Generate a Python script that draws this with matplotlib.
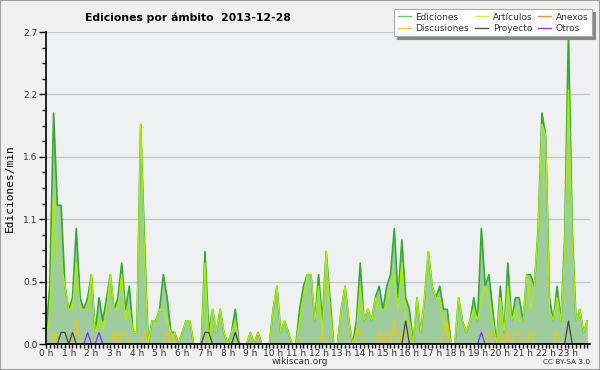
import matplotlib
matplotlib.use("Agg")
import matplotlib.pyplot as plt
from matplotlib.patches import Rectangle
from matplotlib.lines import Line2D
from matplotlib.ticker import FixedLocator, MultipleLocator

# 10-minute bins, 0:00 .. 23:50 (edits per minute)
ediciones = [
    0.1, 0.5, 2.0, 1.2, 1.2, 0.5, 0.3, 0.4, 1.0, 0.4, 0.3, 0.4,
    0.6, 0.1, 0.4, 0.2, 0.4, 0.6, 0.3, 0.4, 0.7, 0.3, 0.5, 0.1,
    0.1, 1.9, 0.9, 0.0, 0.2, 0.2, 0.3, 0.6, 0.4, 0.1, 0.1, 0.0,
    0.1, 0.2, 0.2, 0.0, 0.0, 0.0, 0.8, 0.1, 0.3, 0.1, 0.3, 0.1,
    0.0, 0.1, 0.3, 0.0, 0.0, 0.0, 0.1, 0.0, 0.1, 0.0, 0.0, 0.0,
    0.3, 0.5, 0.1, 0.2, 0.1, 0.0, 0.0, 0.3, 0.5, 0.6, 0.6, 0.2,
    0.6, 0.2, 0.8, 0.4, 0.0, 0.0, 0.3, 0.5, 0.2, 0.0, 0.2, 0.7,
    0.2, 0.3, 0.2, 0.4, 0.5, 0.3, 0.5, 0.6, 1.0, 0.4, 0.9, 0.4,
    0.3, 0.0, 0.4, 0.1, 0.4, 0.8, 0.5, 0.4, 0.5, 0.3, 0.3, 0.0,
    0.0, 0.4, 0.2, 0.1, 0.2, 0.4, 0.2, 1.0, 0.5, 0.6, 0.3, 0.0,
    0.5, 0.1, 0.7, 0.2, 0.4, 0.4, 0.2, 0.6, 0.6, 0.5, 1.0, 2.0,
    1.8, 0.4, 0.2, 0.5, 0.2, 0.9, 2.7, 1.0, 0.2, 0.3, 0.1, 0.2,
]
articulos = [
    0.1, 0.2, 1.3, 0.7, 0.7, 0.5, 0.3, 0.3, 0.7, 0.3, 0.3, 0.3,
    0.6, 0.1, 0.2, 0.1, 0.3, 0.6, 0.3, 0.3, 0.6, 0.2, 0.3, 0.1,
    0.1, 1.9, 0.8, 0.0, 0.2, 0.2, 0.3, 0.3, 0.2, 0.1, 0.0, 0.0,
    0.1, 0.2, 0.2, 0.0, 0.0, 0.0, 0.7, 0.0, 0.3, 0.1, 0.3, 0.1,
    0.0, 0.1, 0.2, 0.0, 0.0, 0.0, 0.1, 0.0, 0.0, 0.0, 0.0, 0.0,
    0.3, 0.5, 0.1, 0.2, 0.1, 0.0, 0.0, 0.2, 0.4, 0.6, 0.6, 0.2,
    0.5, 0.1, 0.8, 0.3, 0.0, 0.0, 0.3, 0.5, 0.2, 0.0, 0.1, 0.5,
    0.2, 0.3, 0.2, 0.4, 0.3, 0.3, 0.3, 0.5, 0.6, 0.3, 0.7, 0.2,
    0.2, 0.0, 0.4, 0.1, 0.4, 0.8, 0.5, 0.4, 0.4, 0.2, 0.1, 0.0,
    0.0, 0.4, 0.2, 0.1, 0.2, 0.3, 0.2, 0.4, 0.5, 0.4, 0.2, 0.0,
    0.4, 0.1, 0.5, 0.2, 0.3, 0.2, 0.2, 0.6, 0.3, 0.5, 1.0, 1.9,
    1.8, 0.3, 0.2, 0.4, 0.2, 0.8, 2.2, 0.9, 0.2, 0.3, 0.1, 0.2,
]
anexos = [0.0] * 144
discusiones = [
    0.0, 0.0, 0.1, 0.0, 0.0, 0.0, 0.0, 0.0, 0.2, 0.0, 0.0, 0.0,
    0.0, 0.0, 0.0, 0.0, 0.0, 0.0, 0.1, 0.0, 0.1, 0.1, 0.0, 0.0,
    0.0, 0.0, 0.1, 0.0, 0.0, 0.0, 0.0, 0.0, 0.1, 0.0, 0.1, 0.0,
    0.0, 0.0, 0.0, 0.0, 0.0, 0.0, 0.0, 0.0, 0.0, 0.0, 0.0, 0.0,
    0.0, 0.0, 0.0, 0.0, 0.0, 0.0, 0.0, 0.0, 0.1, 0.0, 0.0, 0.0,
    0.0, 0.0, 0.0, 0.0, 0.0, 0.0, 0.0, 0.0, 0.0, 0.0, 0.0, 0.0,
    0.0, 0.1, 0.0, 0.0, 0.0, 0.0, 0.0, 0.0, 0.0, 0.0, 0.1, 0.1,
    0.0, 0.0, 0.0, 0.0, 0.1, 0.0, 0.1, 0.0, 0.2, 0.0, 0.1, 0.1,
    0.0, 0.0, 0.0, 0.0, 0.0, 0.0, 0.0, 0.0, 0.0, 0.1, 0.2, 0.0,
    0.0, 0.0, 0.0, 0.0, 0.0, 0.0, 0.0, 0.0, 0.0, 0.1, 0.0, 0.0,
    0.1, 0.0, 0.1, 0.0, 0.1, 0.1, 0.0, 0.0, 0.1, 0.0, 0.0, 0.0,
    0.0, 0.0, 0.0, 0.1, 0.0, 0.0, 0.0, 0.0, 0.0, 0.0, 0.0, 0.0,
]
proyecto = [
    0.0, 0.0, 0.0, 0.0, 0.1, 0.1, 0.0, 0.1, 0.0, 0.0, 0.0, 0.0,
    0.0, 0.0, 0.0, 0.0, 0.0, 0.0, 0.0, 0.0, 0.0, 0.0, 0.0, 0.0,
    0.0, 0.0, 0.0, 0.0, 0.0, 0.0, 0.0, 0.0, 0.0, 0.0, 0.0, 0.0,
    0.0, 0.0, 0.0, 0.0, 0.0, 0.0, 0.1, 0.1, 0.0, 0.0, 0.0, 0.0,
    0.0, 0.0, 0.1, 0.0, 0.0, 0.0, 0.0, 0.0, 0.0, 0.0, 0.0, 0.0,
    0.0, 0.0, 0.0, 0.0, 0.0, 0.0, 0.0, 0.0, 0.0, 0.0, 0.0, 0.0,
    0.0, 0.0, 0.0, 0.0, 0.0, 0.0, 0.0, 0.0, 0.0, 0.0, 0.0, 0.0,
    0.0, 0.0, 0.0, 0.0, 0.0, 0.0, 0.0, 0.0, 0.0, 0.0, 0.0, 0.2,
    0.0, 0.0, 0.0, 0.0, 0.0, 0.0, 0.0, 0.0, 0.0, 0.0, 0.0, 0.0,
    0.0, 0.0, 0.0, 0.0, 0.0, 0.0, 0.0, 0.0, 0.0, 0.0, 0.0, 0.0,
    0.0, 0.0, 0.0, 0.0, 0.0, 0.0, 0.0, 0.0, 0.0, 0.0, 0.0, 0.0,
    0.0, 0.0, 0.0, 0.0, 0.0, 0.0, 0.2, 0.0, 0.0, 0.0, 0.0, 0.0,
]
otros = [0.0] * 144
for _i in (11, 14, 115):
    otros[_i] = 0.1

hour_labels = [f"{h} h" for h in range(24)]
y_ticks = [0.0, 0.54, 1.08, 1.62, 2.16, 2.7]
y_tick_labels = ["0.0", "0.5", "1.1", "1.6", "2.2", "2.7"]
series_labels = ["Ediciones", "Artículos", "Anexos", "Discusiones", "Proyecto", "Otros"]

x = [i / 6 for i in range(len(ediciones))]

fig = plt.figure(figsize=(6, 3.7), dpi=100, facecolor="#f0f0f0")
fig.patches.append(Rectangle((0, 0), 1, 1, transform=fig.transFigure,
                             fill=False, edgecolor="#a0a0a0", lw=1.5))
ax = fig.add_axes([46 / 600, 26 / 370, 544 / 600, 312 / 370])
ax.set_facecolor("#eef0f2")

ax.fill_between(x, ediciones, 0, color="#9fcc9f", lw=0, zorder=2)
ax.plot(x, ediciones, color="#33aa33", lw=1.2, zorder=3)
ax.plot(x, articulos, color="#aaee00", lw=1.0, zorder=4)
ax.plot(x, anexos, color="#ff7f33", lw=0.9, zorder=5)
ax.plot(x, discusiones, color="#f5c400", lw=0.9, zorder=5)
ax.plot(x, proyecto, color="#444444", lw=0.9, zorder=6)
ax.plot(x, otros, color="#7733ff", lw=0.9, zorder=6)

ax.set_xlim(0, 23.95)
ax.set_ylim(0, 2.7)
ax.yaxis.set_major_locator(FixedLocator(y_ticks))
ax.set_yticklabels(y_tick_labels)
ax.yaxis.set_minor_locator(MultipleLocator(0.135))
ax.xaxis.set_major_locator(FixedLocator(list(range(24))))
ax.set_xticklabels(hour_labels)
ax.xaxis.set_minor_locator(MultipleLocator(1 / 6))
ax.grid(axis="y", which="major", color="#c8c8c8", lw=1, zorder=1)
ax.set_axisbelow(True)

for s in ("top", "right"):
    ax.spines[s].set_visible(False)
for s in ("left", "bottom"):
    ax.spines[s].set_color("black")
    ax.spines[s].set_linewidth(1.2)
    ax.spines[s].set_zorder(10)

ax.tick_params(axis="y", which="major", direction="out", length=5,
               width=1, labelsize=6.5, labelcolor="#333333", pad=1)
ax.tick_params(axis="x", which="major", direction="out", length=3,
               width=1, labelsize=6.5, labelcolor="#333333", pad=0.5)
ax.tick_params(axis="both", which="minor", direction="out", length=3, width=1)

ax.set_ylabel("Ediciones/min", family="DejaVu Sans Mono", fontsize=8)
ax.yaxis.set_label_coords(-31 / 544, 0.5)

fig.text(85 / 600, 1 - 18 / 370, "Ediciones por ámbito  2013-12-28",
         fontsize=7.8, fontweight="bold", ha="left", va="center")
fig.text(300 / 600, 1 - 362 / 370, "wikiscan.org", fontsize=6.5,
         color="#333333", ha="center", va="center")
fig.text(590 / 600, 1 - 362 / 370, "CC BY-SA 3.0", fontsize=5.3,
         color="#333333", ha="right", va="center")

order = [0, 3, 1, 4, 2, 5]
leg_colors = ["#66cc66", "#ccff33", "#ff8844", "#ffcc33", "#555555", "#9933ff"]
proxies = [Line2D([], [], color=c, lw=1) for c in leg_colors]
leg = fig.legend([proxies[i] for i in order], [series_labels[i] for i in order],
                 ncol=3, loc="upper right",
                 bbox_to_anchor=(592 / 600, 1 - 9 / 370),
                 fontsize=6.5, frameon=True, fancybox=False,
                 shadow={"color": "#888888", "alpha": 1.0},
                 handlelength=1.5, handletextpad=0.5, columnspacing=0.6,
                 labelspacing=0.25, borderpad=0.4, borderaxespad=0)
leg.get_frame().set_edgecolor("#aaaaaa")
leg.get_frame().set_linewidth(0.8)
for t in leg.get_texts():
    t.set_color("#333333")

fig.savefig("out.png", dpi=100, facecolor=fig.get_facecolor())
